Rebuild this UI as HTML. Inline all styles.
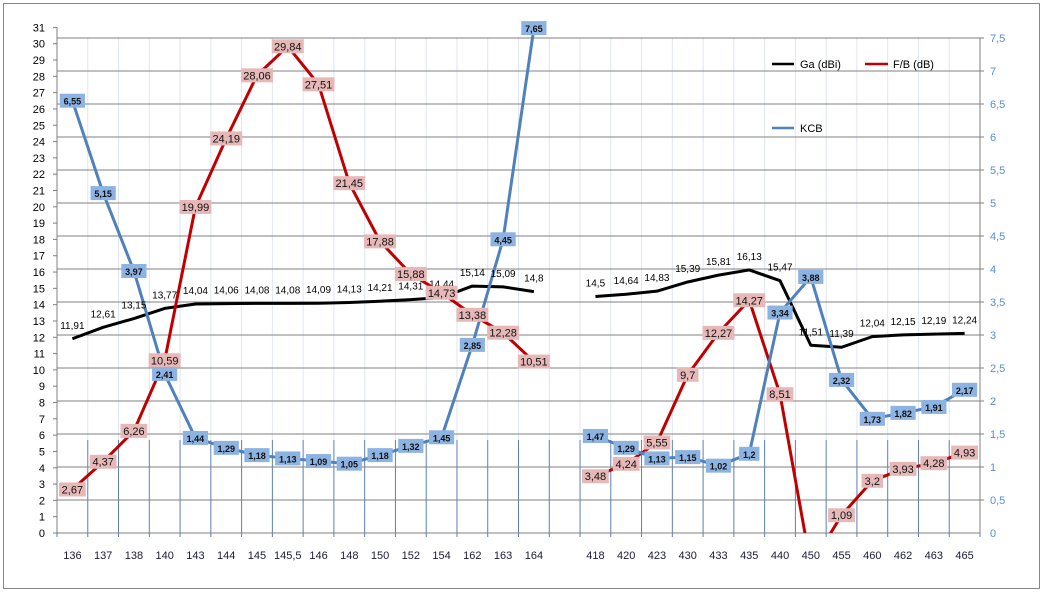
<!DOCTYPE html>
<html><head><meta charset="utf-8"><style>
body{margin:0;background:#fff;}
svg text{font-family:"Liberation Sans",sans-serif;}
</style></head><body>
<svg id="c" width="1043" height="592" xmlns="http://www.w3.org/2000/svg">
<rect x="3.5" y="3.5" width="1036" height="585" fill="#fff" stroke="#888"/>
<g id="grid"></g><g id="axes"></g><g id="series"></g><g id="labels"></g>
<g>
<line x1="772" y1="64" x2="794" y2="64" stroke="#000" stroke-width="2.5"/>
<text x="800" y="68" font-size="11">Ga (dBi)</text>
<line x1="865" y1="64" x2="888" y2="64" stroke="#c00000" stroke-width="2.5"/>
<text x="893" y="68" font-size="11">F/B (dB)</text>
<line x1="772" y1="128" x2="794" y2="128" stroke="#4f81bd" stroke-width="2.5"/>
<text x="800" y="132" font-size="11">KCB</text>
</g>
</svg>
<script>
const categories=["136","137","138","140","143","144","145","145,5","146","148","150","152","154","162","163","164","","418","420","423","430","433","435","440","450","455","460","462","463","465"];
const gaValues=[11.91,12.61,13.15,13.77,14.04,14.06,14.08,14.08,14.09,14.13,14.21,14.31,14.44,15.14,15.09,14.8,null,14.5,14.64,14.83,15.39,15.81,16.13,15.47,11.51,11.39,12.04,12.15,12.19,12.24];
const fbValues=[2.67,4.37,6.26,10.59,19.99,24.19,28.06,29.84,27.51,21.45,17.88,15.88,14.73,13.38,12.28,10.51,null,3.48,4.24,5.55,9.7,12.27,14.27,8.51,-2,1.09,3.2,3.93,4.28,4.93];
const kcbValues=[6.55,5.15,3.97,2.41,1.44,1.29,1.18,1.13,1.09,1.05,1.18,1.32,1.45,2.85,4.45,7.65,null,1.47,1.29,1.13,1.15,1.02,1.2,3.34,3.88,2.32,1.73,1.82,1.91,2.17];
const leftTicks=[0,1,2,3,4,5,6,7,8,9,10,11,12,13,14,15,16,17,18,19,20,21,22,23,24,25,26,27,28,29,30,31];
const rightTicks=[0,0.5,1,1.5,2,2.5,3,3.5,4,4.5,5,5.5,6,6.5,7,7.5];
const NS="http://www.w3.org/2000/svg";
const L=57,R=980,B=533,T=38;
const slot=(R-L)/categories.length;
const x=i=>L+slot*(i+0.5);
const yl=v=>B-v*(B-T)/30.35;
const yr=v=>B-v*(B-T)/7.5;
function mk(tag,attrs,parent,txt){const e=document.createElementNS(NS,tag);for(const k in attrs)e.setAttribute(k,attrs[k]);if(txt!==undefined)e.textContent=txt;document.getElementById(parent).appendChild(e);return e;}
const fmt=v=>String(v).replace('.',',');
for(let i=0;i<=categories.length;i++){const xx=L+slot*i;
 let g=mk('line',{x1:xx,x2:xx,y1:T,y2:440,stroke:'#dfe6f1','stroke-width':1},'grid');
 
 let g2=mk('line',{x1:xx,x2:xx,y1:440,y2:B+4,stroke:'#5b7fb5','stroke-width':1},'grid');
 }
rightTicks.forEach(t=>{if(t===0)return;const yy=yr(t);
 let g=mk('line',{x1:L,x2:R,y1:yy,y2:yy,stroke:'#808080','stroke-width':1},'grid');
 
 let t2=mk('text',{x:R+10,y:yy+4,'font-size':11,fill:'#558ed5'},'axes',fmt(t));
 
 mk('line',{x1:R,x2:R+4,y1:yy,y2:yy,stroke:'#808080'},'axes');});
let t0=mk('text',{x:R+10,y:B+4,'font-size':11,fill:'#558ed5'},'axes','0');

leftTicks.forEach(t=>{const yy=yl(t);
 let tx=mk('text',{x:L-12,y:yy+4,'font-size':11,'text-anchor':'end',fill:'#000'},'axes',String(t));
 
 mk('line',{x1:L-4,x2:L,y1:yy,y2:yy,stroke:'#808080'},'axes');});
let ax=mk('line',{x1:L,x2:L,y1:yl(31),y2:B,stroke:'#808080'},'axes');
let ax2=mk('line',{x1:R,x2:R,y1:T,y2:B,stroke:'#808080'},'axes');
let ax3=mk('line',{x1:L,x2:R,y1:B,y2:B,stroke:'#808080'},'axes');
categories.forEach((c,i)=>{if(!c)return;let t=mk('text',{x:x(i),y:559,'font-size':11,'text-anchor':'middle',fill:'#1a1a3a'},'axes',c);
 });
const cp=mk('clipPath',{id:'pc'},'series');mk('rect',{x:L,y:0,width:R-L,height:B},'pc');
function segs(vals,yf){let out=[],cur=[];vals.forEach((v,i)=>{if(v===null){if(cur.length)out.push(cur);cur=[];}else cur.push(x(i)+','+yf(v));});if(cur.length)out.push(cur);return out;}
function line(vals,yf,col,name){segs(vals,yf).forEach(s=>{let p=mk('polyline',{points:s.join(' '),fill:'none',stroke:col,'stroke-width':3,'stroke-linejoin':'round','clip-path':'url(#pc)'},'series');
 });}
line(gaValues,yl,'#000','ga-line');
line(fbValues,yl,'#c00000','fb-line');
line(kcbValues,yr,'#4f81bd','kcb-line');
gaValues.forEach((v,i)=>{if(v===null)return;let t=mk('text',{x:x(i),y:yl(v)-10,'font-size':10,'text-anchor':'middle',fill:'#000'},'labels',fmt(v));
 });
function box(v,i,yy,bg,fs,bold,cw,name){const s=fmt(v);const w=s.length*cw+6;
 let r=mk('rect',{x:x(i)-w/2,y:yy-7,width:w,height:14,fill:bg},'labels');
 
 let t=mk('text',{x:x(i),y:yy+4,'font-size':fs,'font-weight':bold?'bold':'normal','text-anchor':'middle',fill:'#111'},'labels',s);
 }
fbValues.forEach((v,i)=>{if(v===null||v<0)return;box(v,i,yl(v),'#e6b9b8',11,false,5.2,'fb-value-label');});
kcbValues.forEach((v,i)=>{if(v===null)return;box(v,i,yr(v),'#8db3e2',9,true,4.8,'kcb-value-label');});
</script>
</body></html>
